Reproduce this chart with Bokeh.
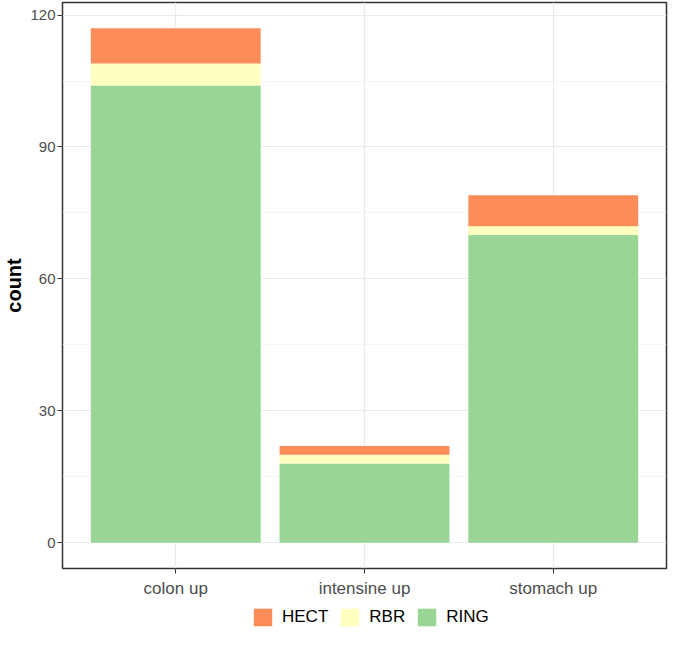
from bokeh.plotting import figure
from bokeh.models import FactorRange, Range1d, FixedTicker, Legend, LegendItem
from bokeh.layouts import column
from bokeh.embed import file_html
from bokeh.resources import INLINE

categories = ["colon up", "intensine up", "stomach up"]
ring = [104, 18, 70]
rbr = [5, 2, 2]
hect = [8, 2, 7]
y_ticks = [0, 30, 60, 90, 120]
y_minor = [15, 45, 75, 105]
series = ["RING", "RBR", "HECT"]
colors = ["#99D594", "#FFFFBF", "#FC8D59"]

FONT = "Liberation Sans"

p = figure(width=669, height=600, output_backend="svg", toolbar_location=None,
           x_range=FactorRange(factors=categories, range_padding=0.2 / 3,
                               range_padding_units="percent"),
           y_range=Range1d(-5.85, 122.85),
           min_border_left=55, min_border_right=3, min_border_top=2,
           min_border_bottom=30)

data = dict(cat=categories, RING=ring, RBR=rbr, HECT=hect)
p.vbar_stack(series, x="cat", width=0.9, source=data, color=colors, line_color=None)

p.yaxis.ticker = FixedTicker(ticks=y_ticks, minor_ticks=y_minor)
p.ygrid.grid_line_color = "#EBEBEB"
p.ygrid.grid_line_width = 1.2
p.ygrid.minor_grid_line_color = "#F2F2F2"
p.ygrid.minor_grid_line_width = 0.8
p.xgrid.grid_line_color = "#EBEBEB"
p.xgrid.grid_line_width = 1.2

for ax in (p.xaxis[0], p.yaxis[0]):
    ax.axis_line_color = None
    ax.major_tick_line_color = "#333333"
    ax.major_tick_in = 0
    ax.major_tick_out = 5
    ax.minor_tick_line_color = None
    ax.major_label_text_font = FONT
    ax.major_label_text_color = "#4D4D4D"

p.xaxis.major_label_text_font_size = "17px"
p.yaxis.major_label_text_font_size = "15px"
p.xaxis.major_label_standoff = 5
p.yaxis.major_label_standoff = 2
p.yaxis.axis_label = "count"
p.yaxis.axis_label_text_font = FONT
p.yaxis.axis_label_text_font_size = "20px"
p.yaxis.axis_label_text_font_style = "bold"
p.yaxis.axis_label_text_color = "#000000"
p.yaxis.axis_label_standoff = 2

p.outline_line_color = "#333333"
p.outline_line_width = 1.5
p.background_fill_color = "white"
p.border_fill_color = "white"

# legend strip below the panel (swatch renderers lie outside its visible range)
lg = figure(width=669, height=29, output_backend="svg", toolbar_location=None,
            x_axis_type=None, y_axis_type=None, min_border=0,
            x_range=Range1d(0, 1), y_range=Range1d(0, 1))
lg.outline_line_color = None
lg.xgrid.visible = False
lg.ygrid.visible = False
lrs = {}
for s, c in zip(series, colors):
    lrs[s] = lg.vbar(x=[-5], top=[-5], bottom=[-6], width=0.5, color=c, line_color=None)
legend = Legend(items=[LegendItem(label=s, renderers=[lrs[s]]) for s in ["HECT", "RBR", "RING"]],
                orientation="horizontal", location=(189, 1),
                glyph_width=23, glyph_height=22, label_text_font=FONT,
                label_text_font_size="17px", label_text_color="#000000",
                border_line_color=None, background_fill_alpha=0,
                spacing=10, padding=0, margin=0, label_standoff=8)
lg.add_layout(legend, "center")

open("out.html", "w").write(file_html(column(p, lg, spacing=0), INLINE))
